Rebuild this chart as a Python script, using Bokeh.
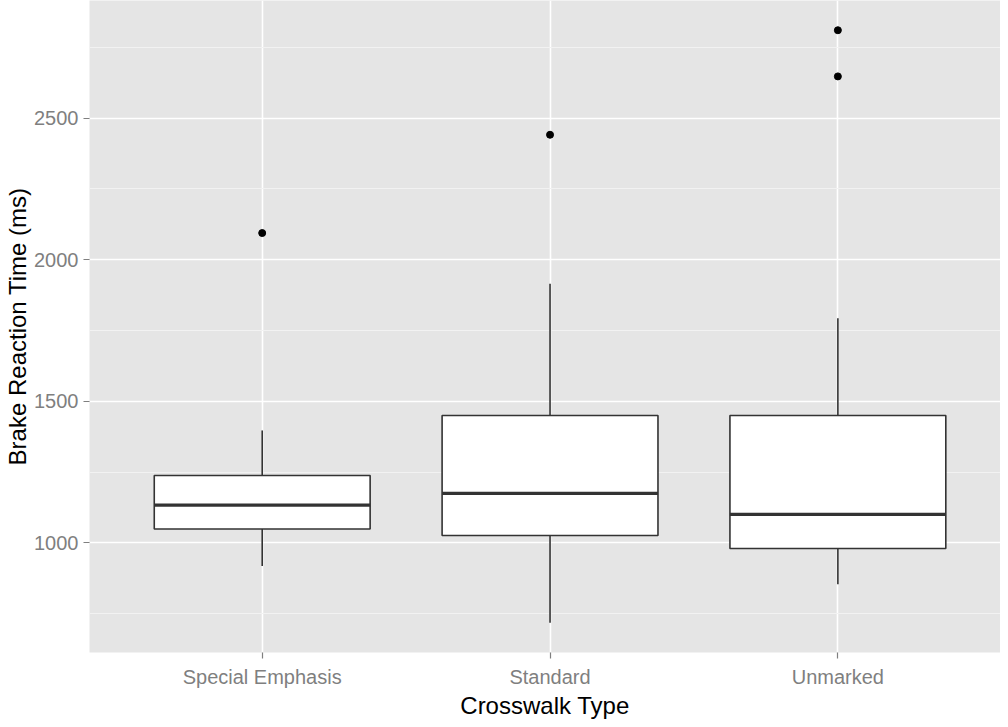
from bokeh.plotting import figure
from bokeh.models import Range1d, FixedTicker, SingleIntervalTicker, ColumnDataSource
from bokeh.embed import file_html
from bokeh.resources import INLINE

categories = ["Special Emphasis", "Standard", "Unmarked"]
lower_whisker = [918, 718, 854]
q1 = [1049, 1026, 980]
median = [1133, 1175, 1101]
q3 = [1238, 1450, 1450]
upper_whisker = [1397, 1915, 1793]
outlier_cat = ["Special Emphasis", "Standard", "Unmarked", "Unmarked"]
outlier_val = [2094, 2441, 2647, 2810]

BOX_W = 0.75
pos = {c: i + 1 for i, c in enumerate(categories)}
xs = [pos[c] for c in categories]

src = ColumnDataSource(dict(
    x=xs,
    x0=[x - BOX_W / 2 for x in xs],
    x1=[x + BOX_W / 2 for x in xs],
    lw=lower_whisker, q1=q1, med=median, q3=q3, uw=upper_whisker,
))
osrc = ColumnDataSource(dict(x=[pos[c] for c in outlier_cat], y=outlier_val))

p = figure(
    frame_width=911, frame_height=652,
    x_range=Range1d(0.4, 3.565), y_range=Range1d(613, 2915),
    output_backend="svg", toolbar_location=None,
    min_border_left=89, min_border_right=0, min_border_top=0, min_border_bottom=67,
)
p.background_fill_color = "#E5E5E5"
p.border_fill_color = "white"
p.outline_line_color = None

# grids
p.xgrid.grid_line_color = "white"
p.xgrid.grid_line_width = 1.6
p.ygrid.grid_line_color = "white"
p.ygrid.grid_line_width = 1.6
p.ygrid.minor_grid_line_color = "#F2F2F2"
p.ygrid.minor_grid_line_width = 1

# axes
p.xaxis.ticker = FixedTicker(ticks=xs)
p.xaxis.major_label_overrides = {x: c for x, c in zip(xs, categories)}
p.yaxis.ticker = SingleIntervalTicker(interval=500, num_minor_ticks=2)
for ax in (p.xaxis[0], p.yaxis[0]):
    ax.axis_line_color = None
    ax.major_tick_line_color = "#7F7F7F"
    ax.major_tick_line_width = 1.2
    ax.major_tick_in = 0
    ax.major_tick_out = 6
    ax.minor_tick_line_color = None
    ax.major_label_text_color = "#7F7F7F"
    ax.major_label_text_font = "Liberation Sans"
    ax.major_label_text_font_size = "20px"
    ax.axis_label_text_font = "Liberation Sans"
    ax.axis_label_text_font_size = "24px"
    ax.axis_label_text_font_style = "normal"
    ax.axis_label_text_color = "black"
p.xaxis.axis_label = "Crosswalk Type"
p.yaxis.axis_label = "Brake Reaction Time (ms)"
p.xaxis.major_label_standoff = 7
p.yaxis.major_label_standoff = 5
p.xaxis.axis_label_standoff = 1
p.yaxis.axis_label_standoff = 0

# whiskers
p.segment(x0="x", y0="q3", x1="x", y1="uw", source=src, line_color="#333333", line_width=1.6)
p.segment(x0="x", y0="q1", x1="x", y1="lw", source=src, line_color="#333333", line_width=1.6)
# boxes
p.vbar(x="x", width=BOX_W, bottom="q1", top="q3", source=src,
       fill_color="white", line_color="#333333", line_width=1.6)
# medians
p.segment(x0="x0", y0="med", x1="x1", y1="med", source=src, line_color="#333333", line_width=3.2)
# outliers
p.scatter(x="x", y="y", source=osrc, size=7, fill_color="black", line_color="black")

open("out.html", "w").write(file_html(p, INLINE))
